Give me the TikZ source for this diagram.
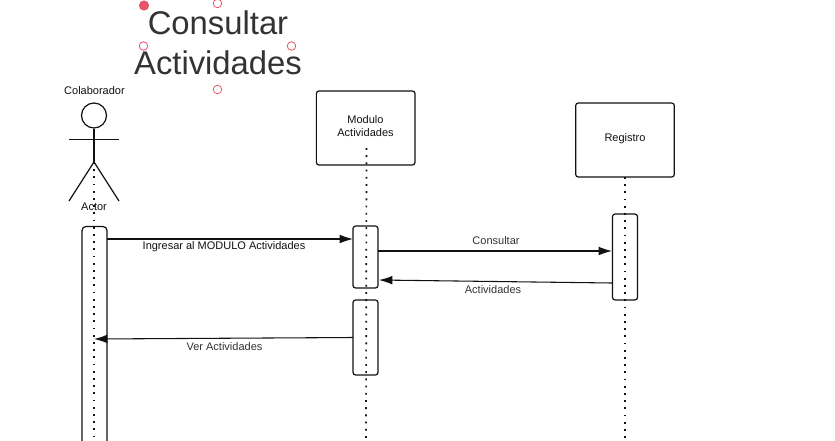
\documentclass[tikz,border=0pt]{standalone}
\usepackage{fontspec}
\setmainfont{Liberation Sans}
\usetikzlibrary{arrows.meta}
\definecolor{ink}{HTML}{111111}
\definecolor{lbl}{HTML}{333333}
\definecolor{handle}{HTML}{E5566A}
\tikzset{
  x=0.75pt,y=-0.75pt,
  boxstyle/.style={draw=ink,line width=0.9pt,rounded corners=2pt,fill=white,inner sep=0pt,outer sep=0pt,align=center},
  bar/.style={draw=ink,line width=0.9pt,rounded corners=2pt,inner sep=0pt,outer sep=0pt,minimum width=18.75pt},
  life/.style={draw=ink,line width=1.25pt,dash pattern=on 1.4pt off 4pt},
  msg/.style={draw=ink,line width=0.8pt,-{Latex[length=10pt,width=6.5pt]}},
  lab/.style={font=\fontsize{8.25}{10}\selectfont,text=lbl,inner sep=0pt},
  stick/.style={draw=ink,line width=0.9pt},
  hnd/.style={circle,draw=handle,fill=white,line width=0.6pt,minimum size=6.4pt,inner sep=0pt},
}
\begin{document}
\begin{tikzpicture}
\useasboundingbox (0,0) rectangle (835,440);
\path[fill=white] (0,0) rectangle (835,440);
% lifeline ends
\coordinate (aTop) at (94,162);
\coordinate (aBot) at (94,440);
\coordinate (mTop) at (366.5,148);
\coordinate (mBot) at (366,440);
\coordinate (rTop) at (625,177);
\coordinate (rBot) at (625,440);
% header boxes
\node[boxstyle,minimum width=74pt,minimum height=55.5pt] (mod) at (365.7,128) {};
\node[boxstyle,minimum width=74pt,minimum height=55.5pt] (reg) at (625,140) {};
\node[lab,align=center,text=ink] (modT) at (365.5,126) {Modulo\\Actividades};
\node[lab,text=ink] (regT) at (625,138.5) {Registro};
% activations
\draw[bar,rounded corners=3pt] (82,446) -- (82,226.5) -- (107,226.5) -- (107,446);
\node[bar,minimum height=46.5pt] (m1) at (365.5,257) {};
\node[bar,minimum height=56.25pt] (m2) at (365.5,337.5) {};
\node[bar,minimum height=64.5pt] (r1) at (625,257) {};
% lifelines
\draw[life] (aTop) -- (aBot);
\draw[life] (mTop) -- (mBot);
\draw[life] (rTop) -- (rBot);
% actor
\node[circle,draw=ink,line width=0.9pt,minimum size=18.75pt,inner sep=0pt] (head) at (94,115.5) {};
\coordinate (neck) at (94,162);
\coordinate (armL) at (69,139.5);
\coordinate (armR) at (119,139.5);
\coordinate (footL) at (69,201);
\coordinate (footR) at (119,201);
\draw[stick] (head.south) -- (neck);
\draw[stick] (armL) -- (armR);
\draw[stick] (footL) -- (neck) -- (footR);
\node[lab,text=ink] (colab) at (94.5,90.5) {Colaborador};
\node[lab,text=ink] (actor) at (94,206.5) {Actor};
% messages
\coordinate (s1) at (107,239); \coordinate (e1) at (353,239);
\coordinate (s2) at (378,251); \coordinate (e2) at (612,251);
\coordinate (s3) at (612,283); \coordinate (e3) at (379,280);
\coordinate (s4) at (353,337.5); \coordinate (e4) at (94,339);
\draw[msg] (s1) -- (e1);
\draw[msg] (s2) -- (e2);
\draw[msg] (s3) -- (e3);
\draw[msg] (s4) -- (e4);
\node[lab,text=ink] (l1) at (224,246.5) {Ingresar al MODULO Actividades};
\node[lab] (l2) at (496,240.5) {Consultar};
\node[lab] (l3) at (493,289.5) {Actividades};
\node[lab] (l4) at (224.5,346.5) {Ver Actividades};
% title with handles
\node[font=\fontsize{24.6}{30}\selectfont,text=lbl,align=center,inner sep=0pt] (title) at (218,42.3) {Consultar\\Actividades};
\node[hnd,fill=handle,minimum size=7pt] (h1) at (144,5.5) {};
\node[hnd] (h2) at (217.5,3.5) {};
\node[hnd] (h3) at (143.5,46) {};
\node[hnd] (h4) at (291.5,46) {};
\node[hnd] (h5) at (217.5,89.5) {};
\end{tikzpicture}
\end{document}
